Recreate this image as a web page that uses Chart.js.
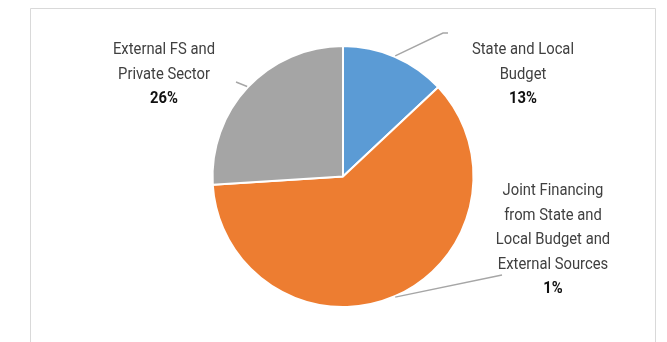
<!DOCTYPE html>
<html>
<head>
<meta charset="utf-8">
<script src="https://cdn.jsdelivr.net/npm/chart.js@4"></script>
<style>
  html, body { margin: 0; padding: 0; background: #fff; }
  #wrap { width: 667px; height: 342px; position: relative; }
</style>
</head>
<body>
<div id="wrap"><canvas id="c" width="667" height="342"></canvas></div>
<script>
// Funding sources (share of total, %)
const categories = [
  ['State and Local', 'Budget'],
  ['Joint Financing', 'from State and', 'Local Budget and', 'External Sources'],
  ['External FS and', 'Private Sector']
];
const shares = [13, 61, 26];
const shareLabels = ['13%', '1%', '26%'];
const colors = ['#5B9BD5', '#ED7D31', '#A5A5A5'];

// Label anchor (centre x, first line baseline y) and leader end for each slice
const labelPlacement = [
  { x: 523, y: 54, lead: [[443, 33], [448, 33]] },
  { x: 553, y: 195, lead: [[502, 275]] },
  { x: 164, y: 54, lead: [[236, 82]] }
];

const frame = {
  id: 'frame',
  beforeDraw(chart) {
    const ctx = chart.ctx;
    ctx.save();
    ctx.fillStyle = '#fff';
    ctx.fillRect(0, 0, chart.width, chart.height);
    ctx.strokeStyle = '#d9d9d9';
    ctx.lineWidth = 1;
    ctx.beginPath();
    ctx.moveTo(30.5, 400);
    ctx.lineTo(30.5, 8.5);
    ctx.lineTo(655.5, 8.5);
    ctx.lineTo(655.5, 400);
    ctx.stroke();
    ctx.restore();
  }
};

const outsideLabels = {
  id: 'outsideLabels',
  afterDatasetsDraw(chart) {
    const ctx = chart.ctx;
    const arcs = chart.getDatasetMeta(0).data;
    ctx.save();
    arcs.forEach((arc, i) => {
      const p = labelPlacement[i];
      const mid = (arc.startAngle + arc.endAngle) / 2;
      const sx = arc.x + Math.cos(mid) * (arc.outerRadius + 1);
      const sy = arc.y + Math.sin(mid) * (arc.outerRadius + 1);
      ctx.strokeStyle = '#a6a6a6';
      ctx.lineWidth = 1.4;
      ctx.beginPath();
      ctx.moveTo(sx, sy);
      p.lead.forEach(pt => ctx.lineTo(pt[0], pt[1]));
      ctx.stroke();

      ctx.textAlign = 'center';
      ctx.textBaseline = 'alphabetic';
      const lines = categories[i];
      ctx.fillStyle = '#404040';
      ctx.font = '17px Roboto, sans-serif';
      lines.forEach((t, k) => {
        drawNarrow(ctx, t, p.x, p.y + k * 24.5);
      });
      ctx.fillStyle = '#111';
      ctx.font = 'bold 17px Roboto, sans-serif';
      drawNarrow(ctx, shareLabels[i], p.x, p.y + lines.length * 24.5);
    });
    ctx.restore();
  }
};

// condensed lettering
function drawNarrow(ctx, text, x, y) {
  ctx.save();
  ctx.translate(x, y);
  ctx.scale(0.87, 1);
  ctx.fillText(text, 0, 0);
  ctx.restore();
}

new Chart(document.getElementById('c'), {
  type: 'pie',
  data: {
    labels: categories.map(l => l.join(' ')),
    datasets: [{
      data: shares,
      backgroundColor: colors,
      borderColor: '#fff',
      borderWidth: 2
    }]
  },
  options: {
    responsive: false,
    animation: false,
    layout: { padding: { left: 211, right: 192, top: 45, bottom: 34 } },
    plugins: {
      legend: { display: false },
      tooltip: { enabled: false }
    }
  },
  plugins: [frame, outsideLabels]
});
</script>
</body>
</html>
